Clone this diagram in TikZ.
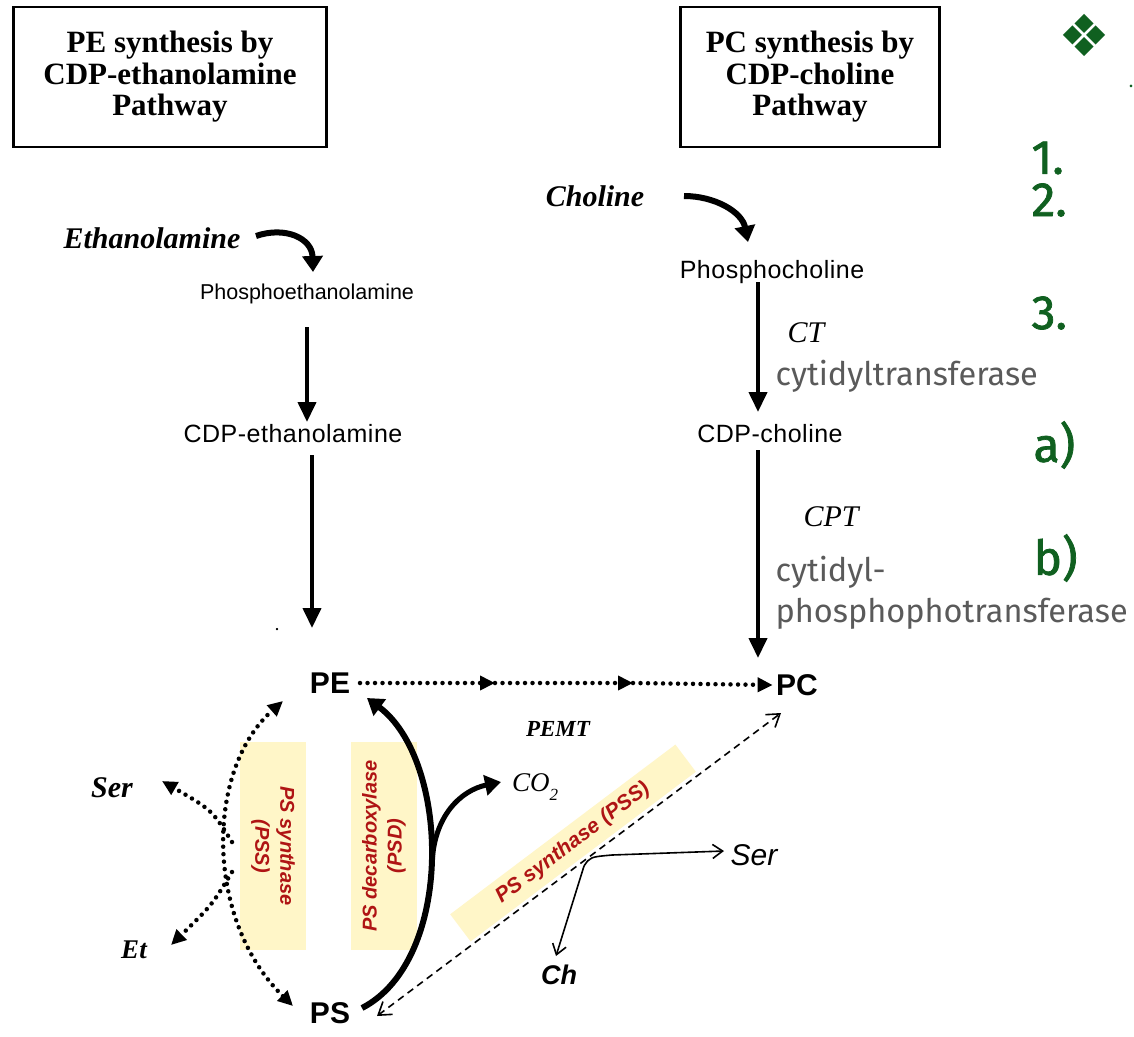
\documentclass[tikz,border=0pt]{standalone}
\usepackage{fontspec}
\setmainfont{Liberation Serif}
\newfontfamily\arialf{Liberation Sans}
\newfontfamily\arialsp[LetterSpace=2]{Liberation Sans}
\newfontfamily\slidef{Fira Sans}
\newfontfamily\numf[FakeBold=1.5]{Fira Sans}
\newfontfamily\symf{DejaVu Sans}
\usetikzlibrary{arrows.meta}
\definecolor{grn}{RGB}{16,96,32}
\definecolor{greytxt}{RGB}{90,90,90}
\definecolor{dred}{RGB}{175,20,20}
\definecolor{hly}{RGB}{255,246,200}
\begin{document}
\begin{tikzpicture}[x=1pt,y=-1pt,
  titlebox/.style={draw, line width=2.5pt, align=center, font=\bfseries\fontsize{31}{31.5}\selectfont},
  met/.style={font=\arialsp\fontsize{25}{27}\selectfont},
  bigm/.style={font=\arialf\bfseries\fontsize{30}{30}\selectfont},
  bitl/.style={font=\bfseries\itshape\fontsize{30}{32}\selectfont},
  enz/.style={font=\itshape\fontsize{30}{32}\selectfont},
  slide/.style={font=\slidef\fontsize{32.5}{41}\selectfont, text=greytxt, align=left},
  num/.style={font=\numf\fontsize{48}{48}\selectfont, text=grn},
  redlab/.style={font=\arialf\bfseries\itshape\fontsize{20}{25}\selectfont, text=dred, align=center},
  hl/.style={fill=hly},
  solidarr/.style={line width=4pt, -{Triangle[length=20pt,width=18pt]}},
  curvarr/.style={line width=6pt, -{Triangle[length=16pt,width=20pt]}},
  dotarr/.style={line width=4.5pt, dash pattern=on 0pt off 7.5pt, line cap=round, -{Triangle[length=15pt,width=14pt]}},
  dotboth/.style={line width=4.5pt, dash pattern=on 0pt off 7.5pt, line cap=round, {Triangle[length=15pt,width=14pt]}-{Triangle[length=15pt,width=14pt]}},
  thinarr/.style={line width=1.6pt, -{Straight Barb[length=10pt,width=14pt]}},
  dasharr/.style={line width=1.6pt, dash pattern=on 7pt off 5pt, {Straight Barb[length=12pt,width=16pt]}-{Straight Barb[length=12pt,width=16pt]}}
]
\useasboundingbox[fill=white] (0,0) rectangle (1134,1036);

% title boxes
\node[titlebox, minimum width=313pt, minimum height=140pt] (box1) at (170,77) {PE synthesis by\\CDP-ethanolamine\\Pathway};
\node[titlebox, minimum width=259pt, minimum height=140pt] (box2) at (810,77) {PC synthesis by\\CDP-choline\\Pathway};

% slide text on right
\node[text=grn, font=\symf\fontsize{58}{58}\selectfont] (diam) at (1084,35) {❖};
\node[text=grn, font=\bfseries\fontsize{16}{16}\selectfont] (tick) at (1131,86) {.};
\node[num, anchor=west] (n1) at (1028,158) {1.};
\node[num, anchor=west] (n2) at (1028,200) {2.};
\node[num, anchor=west] (n3) at (1028,313) {3.};
\node[num, anchor=west] (na) at (1030,445) {a)};
\node[num, anchor=west] (nb) at (1030,558) {b)};

% metabolites
\node[bitl] (eth) at (152,238) {Ethanolamine};
\node[met, font=\arialf\fontsize{21.5}{23}\selectfont] (peth) at (307,294) {Phosphoethanolamine};
\node[met] (cdpe) at (293,434) {CDP-ethanolamine};
\node[bitl] (cho) at (595,196) {Choline};
\node[met] (pcho) at (772,272) {Phosphocholine};
\node[met] (cdpc) at (770,434) {CDP-choline};
\node[bigm] (pe) at (330,683) {PE};
\node[bigm] (pc) at (797,685) {PC};
\node[bigm] (ps) at (330,1013) {PS};

% enzyme labels
\node[enz] (ct) at (806,333) {CT};
\node[slide, anchor=west] (ctname) at (772,376) {cytidyltransferase};
\node[enz] (cpt) at (831,517) {CPT};
\node[slide, anchor=west] (cptname) at (772,593) {cytidyl-\\phosphophotransferase};
\node[font=\bfseries\itshape\fontsize{23}{25}\selectfont] (pemt) at (558,729) {PEMT};
\node[font=\itshape\fontsize{27}{29}\selectfont] (co2) at (535,787) {CO\raisebox{-0.3em}{\fontsize{17}{17}\selectfont 2}};
\node[font=\bfseries\itshape\fontsize{30}{32}\selectfont] (serl) at (112,788) {Ser};
\node[font=\bfseries\itshape\fontsize{27}{29}\selectfont] (et) at (134,950) {Et};
\node[font=\arialf\itshape\fontsize{30}{32}\selectfont] (serr) at (754,855) {Ser};
\node[font=\arialf\bfseries\itshape\fontsize{27}{29}\selectfont] (ch) at (559,975) {Ch};
\node[font=\bfseries\fontsize{14}{14}\selectfont] (dot) at (277,630) {.};

% highlight boxes
\node[hl, redlab, rotate=-90, minimum width=208pt, minimum height=66pt] (pss) at (273,846) {PS synthase\\(PSS)};
\node[hl, redlab, rotate=90, minimum width=208pt, minimum height=66pt] (psd) at (384,846) {PS decarboxylase\\(PSD)};
\node[hl, redlab, font=\arialf\bfseries\itshape\fontsize{21}{25}\selectfont, rotate=37, minimum width=282pt, minimum height=34pt, inner sep=0pt] (pss2) at (573,843) {PS synthase (PSS)};

% coordinates
\coordinate (ethS) at (256,236);
\coordinate (ethT) at (313,272);
\coordinate (choS) at (684,196);
\coordinate (choT) at (748,242);
\coordinate (a1s) at (307,327);
\coordinate (a1e) at (307,422);
\coordinate (a2s) at (312,455);
\coordinate (a2e) at (312,628);
\coordinate (a3s) at (758,282);
\coordinate (a3e) at (758,412);
\coordinate (a4s) at (758,450);
\coordinate (a4e) at (758,658);
\coordinate (peE) at (360,683);
\coordinate (m1) at (495,683);
\coordinate (m2) at (633,683);
\coordinate (peL) at (283,701);
\coordinate (psL) at (293,1006);
\coordinate (brA) at (232,842);
\coordinate (serT) at (162,781);
\coordinate (brB) at (232,872);
\coordinate (etT) at (171,945);
\coordinate (psR) at (362,1008);
\coordinate (peR) at (367,698);
\coordinate (co2S) at (432,866);
\coordinate (co2T) at (501,782);
\coordinate (psD) at (377,1016);
\coordinate (pcD) at (781,713);
\coordinate (br) at (584,866);
\coordinate (serRT) at (724,851);
\coordinate (chT) at (556,956);

% connectors
\draw[curvarr] (ethS) .. controls (285,226) and (312,238) .. (ethT);
\draw[curvarr] (choS) .. controls (715,196) and (742,212) .. (choT);
\draw[solidarr] (a1s) -- (a1e);
\draw[solidarr] (a2s) -- (a2e);
\draw[solidarr] (a3s) -- (a3e);
\draw[solidarr] (a4s) -- (a4e);

\draw[dotarr] (peE) -- (m1);
\draw[dotarr] (m1) -- (m2);
\draw[dotarr] (m2) -- (pc.west);

\draw[dotboth] (psL) .. controls (205,920) and (205,770) .. (peL);
\draw[dotarr] (brA) .. controls (212,810) .. (serT);
\draw[dotarr] (brB) .. controls (212,905) .. (etT);

\draw[curvarr] (psR) .. controls (455,960) and (450,760) .. (peR);
\draw[curvarr, line width=5pt] (co2S) .. controls (433,815) and (462,790) .. (co2T);

\draw[dasharr] (psD) -- (pcD);
\draw[thinarr] (br) .. controls (590,857) .. (612,855) -- (serRT);
\draw[thinarr] (br) -- (chT);
\end{tikzpicture}
\end{document}
